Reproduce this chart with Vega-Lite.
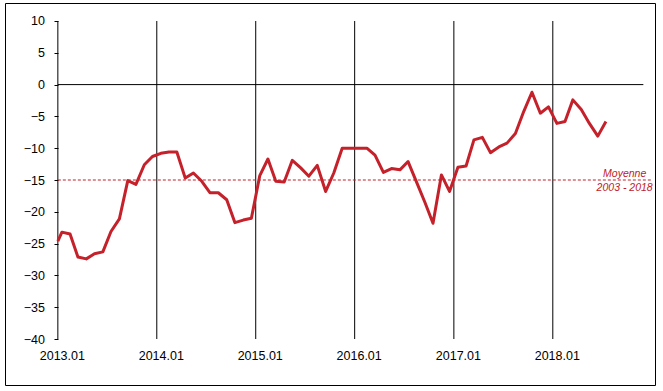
{
  "$schema": "https://vega.github.io/schema/vega-lite/v6.json",
  "width": 650,
  "height": 382,
  "autosize": {"type": "none"},
  "padding": {"left": 5, "top": 3, "right": 8, "bottom": 6},
  "background": "white",
  "config": {
    "view": {"stroke": "#000000", "strokeWidth": 1},
    "axis": {"labelFont": "Liberation Sans, Arial", "labelFontSize": 12.5, "labelColor": "#000000"}
  },
  "resolve": {"axis": {"x": "independent", "y": "independent"}},
  "layer": [
    {
      "data": {"values": [
        {"date": "2013-01-01"}, {"date": "2014-01-01"}, {"date": "2015-01-01"},
        {"date": "2016-01-01"}, {"date": "2017-01-01"}, {"date": "2018-01-01"}
      ]},
      "mark": {"type": "rule", "color": "#000000", "strokeWidth": 1},
      "encoding": {
        "x": {
          "field": "date", "type": "temporal", "axis": null,
          "scale": {"type": "utc", "domain": [{"year": 2012, "month": 6, "date": 20, "utc": true}, {"year": 2019, "month": 1, "date": 13, "utc": true}], "nice": false}
        },
        "y": {
          "datum": 10, "type": "quantitative", "axis": null,
          "scale": {"domain": [-47.23, 12.83], "nice": false, "zero": false}
        },
        "y2": {"datum": -40}
      }
    },
    {
      "data": {"values": [{}]},
      "mark": {"type": "rule", "color": "#000000", "strokeWidth": 1},
      "encoding": {
        "x": {"datum": {"year": 2013, "month": 1, "date": 1, "utc": true}, "type": "temporal", "axis": null},
        "x2": {"datum": {"year": 2018, "month": 12, "date": 1, "utc": true}},
        "y": {"datum": 0, "type": "quantitative", "axis": null}
      }
    },
    {
      "data": {"values": [{}]},
      "mark": {"type": "rule", "color": "#C0202A", "strokeWidth": 1, "strokeDash": [3, 2]},
      "encoding": {
        "x": {"datum": {"year": 2013, "month": 1, "date": 1, "utc": true}, "type": "temporal", "axis": null},
        "x2": {"datum": {"year": 2018, "month": 12, "date": 31, "utc": true}},
        "y": {"datum": -15, "type": "quantitative", "axis": null}
      }
    },
    {
      "data": {"values": [
        {"date": "2013-01-01", "value": -24.6},
        {"date": "2013-01-16", "value": -23.2},
        {"date": "2013-02-15", "value": -23.5},
        {"date": "2013-03-16", "value": -27.1},
        {"date": "2013-04-16", "value": -27.4},
        {"date": "2013-05-16", "value": -26.6},
        {"date": "2013-06-16", "value": -26.3},
        {"date": "2013-07-16", "value": -23.1},
        {"date": "2013-08-16", "value": -21.1},
        {"date": "2013-09-16", "value": -15.1},
        {"date": "2013-10-16", "value": -15.7},
        {"date": "2013-11-16", "value": -12.6},
        {"date": "2013-12-16", "value": -11.3},
        {"date": "2014-01-16", "value": -10.8},
        {"date": "2014-02-15", "value": -10.6},
        {"date": "2014-03-16", "value": -10.6},
        {"date": "2014-04-16", "value": -14.7},
        {"date": "2014-05-16", "value": -13.9},
        {"date": "2014-06-16", "value": -15.2},
        {"date": "2014-07-16", "value": -17.0},
        {"date": "2014-08-16", "value": -17.0},
        {"date": "2014-09-16", "value": -18.1},
        {"date": "2014-10-16", "value": -21.7},
        {"date": "2014-11-16", "value": -21.3},
        {"date": "2014-12-16", "value": -21.0},
        {"date": "2015-01-16", "value": -14.3},
        {"date": "2015-02-15", "value": -11.7},
        {"date": "2015-03-16", "value": -15.2},
        {"date": "2015-04-16", "value": -15.3},
        {"date": "2015-05-16", "value": -11.9},
        {"date": "2015-06-16", "value": -13.1},
        {"date": "2015-07-16", "value": -14.4},
        {"date": "2015-08-16", "value": -12.7},
        {"date": "2015-09-16", "value": -16.8},
        {"date": "2015-10-16", "value": -13.9},
        {"date": "2015-11-16", "value": -10.0},
        {"date": "2015-12-16", "value": -10.0},
        {"date": "2016-01-16", "value": -10.0},
        {"date": "2016-02-15", "value": -10.0},
        {"date": "2016-03-16", "value": -11.1},
        {"date": "2016-04-16", "value": -13.8},
        {"date": "2016-05-16", "value": -13.2},
        {"date": "2016-06-16", "value": -13.4},
        {"date": "2016-07-16", "value": -12.1},
        {"date": "2016-08-16", "value": -15.3},
        {"date": "2016-09-16", "value": -18.5},
        {"date": "2016-10-16", "value": -21.8},
        {"date": "2016-11-16", "value": -14.2},
        {"date": "2016-12-16", "value": -16.8},
        {"date": "2017-01-16", "value": -13.0},
        {"date": "2017-02-15", "value": -12.8},
        {"date": "2017-03-16", "value": -8.7},
        {"date": "2017-04-16", "value": -8.3},
        {"date": "2017-05-16", "value": -10.7},
        {"date": "2017-06-16", "value": -9.8},
        {"date": "2017-07-16", "value": -9.2},
        {"date": "2017-08-16", "value": -7.7},
        {"date": "2017-09-16", "value": -4.2},
        {"date": "2017-10-16", "value": -1.2},
        {"date": "2017-11-16", "value": -4.5},
        {"date": "2017-12-16", "value": -3.5},
        {"date": "2018-01-16", "value": -6.1},
        {"date": "2018-02-15", "value": -5.8},
        {"date": "2018-03-16", "value": -2.4},
        {"date": "2018-04-16", "value": -3.9},
        {"date": "2018-05-16", "value": -6.1},
        {"date": "2018-06-16", "value": -8.1},
        {"date": "2018-07-16", "value": -5.8}
      ]},
      "mark": {"type": "line", "color": "#C4212B", "strokeWidth": 3, "strokeJoin": "round"},
      "encoding": {
        "x": {
          "field": "date", "type": "temporal", "title": null,
          "axis": {
            "orient": "bottom", "offset": -46, "domain": false, "ticks": false, "grid": false,
            "values": [
              {"year": 2013, "month": 1, "date": 1, "utc": true},
              {"year": 2014, "month": 1, "date": 1, "utc": true},
              {"year": 2015, "month": 1, "date": 1, "utc": true},
              {"year": 2016, "month": 1, "date": 1, "utc": true},
              {"year": 2017, "month": 1, "date": 1, "utc": true},
              {"year": 2018, "month": 1, "date": 1, "utc": true}
            ],
            "labelExpr": "utcFormat(datum.value, '%Y.%m')",
            "labelOffset": 4, "labelPadding": 10, "labelFlush": false, "labelOverlap": false, "labelBound": false, "title": null
          }
        },
        "y": {
          "field": "value", "type": "quantitative", "title": null,
          "axis": {
            "orient": "left", "offset": -53, "domain": false, "grid": false,
            "values": [-40, -35, -30, -25, -20, -15, -10, -5, 0, 5, 10],
            "tickCount": 12,
            "tickSize": 4, "tickColor": "#000000", "tickWidth": 1, "labelPadding": 9.5,
            "labelFlush": false, "labelOverlap": false, "labelBound": false, "title": null
          }
        }
      }
    },
    {
      "data": {"values": [
        {"date": "2018-09-23", "value": -15, "label": "Moyenne\n2003 - 2018"}
      ]},
      "mark": {"type": "text", "align": "center", "baseline": "alphabetic", "dy": -3.5, "lineBreak": "\n", "lineHeight": 14.5, "font": "Liberation Sans, Arial", "fontSize": 10.5, "fontStyle": "italic", "color": "#C0202A"},
      "encoding": {
        "x": {"field": "date", "type": "temporal", "axis": null},
        "y": {"field": "value", "type": "quantitative", "axis": null},
        "text": {"field": "label"}
      }
    }
  ]
}
